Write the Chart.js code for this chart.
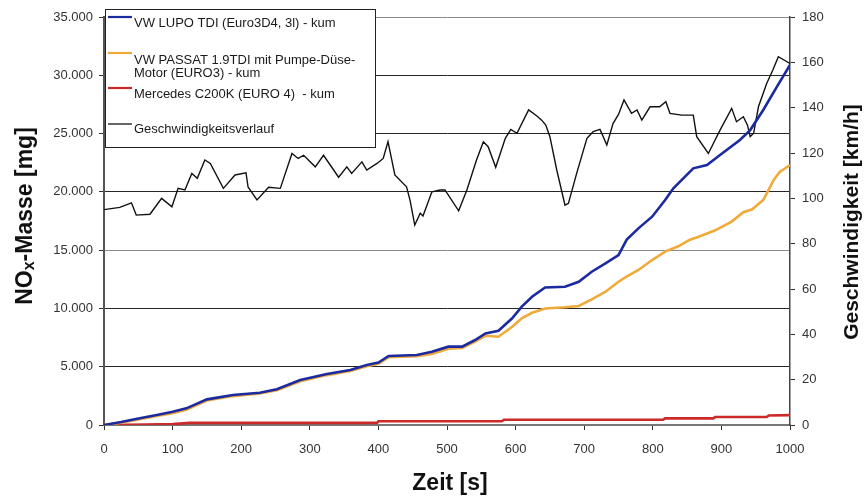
<!DOCTYPE html>
<html><head><meta charset="utf-8">
<script src="https://cdn.jsdelivr.net/npm/chart.js@4.4.1/dist/chart.umd.min.js"></script>
<style>html,body{margin:0;padding:0;background:#fff;}#wrap{width:864px;height:496px;}</style>
</head><body><div id="wrap"><canvas id="c" width="864" height="496"></canvas></div>
<script>
// ---- data ----
const lupoTime = [0,25,52,77,100,120,150,188,227,252,286,325,359,383,400,415,456,478,502,522,541,556,575,595,609,624,643,672,692,711,731,750,762,779,799,818,830,859,879,898,927,942,961,981,1000];
const lupoMg   = [0,250,575,860,1140,1430,2200,2570,2770,3060,3860,4380,4720,5150,5350,5920,6000,6290,6720,6720,7290,7860,8090,9150,10150,11000,11800,11860,12290,13150,13870,14580,15900,16870,17870,19300,20300,22020,22300,23160,24450,25300,27020,29020,30880];

const passatTime = [0,25,52,77,100,120,150,188,227,252,286,325,359,383,400,415,456,478,502,522,541,556,575,595,609,624,643,672,692,711,731,750,760,779,799,818,838,854,867,891,915,932,945,961,970,976,985,1000];
const passatMg   = [0,200,500,780,1000,1300,2100,2480,2700,2980,3750,4280,4630,5050,5250,5820,5900,6090,6550,6600,7150,7650,7575,8430,9150,9630,10000,10100,10210,10780,11430,12290,12670,13300,14150,14870,15350,15900,16150,16700,17450,18250,18500,19300,20300,21000,21700,22300];

const mercTime = [0,60,100,125,398,400,580,583,815,818,888,891,966,969,1000];
const mercMg   = [0,40,80,180,180,320,320,450,450,570,570,680,680,820,850];

const speedTime = [0,23,40,47,67,84,99,108,118,128,136,147,155,174,191,207,210,223,240,257,274,283,291,308,320,342,354,361,376,383,398,407,414,424,441,446,453,461,465,478,490,497,517,529,543,553,560,571,585,593,602,619,631,638,644,650,660,672,677,689,704,713,723,733,742,750,758,769,777,784,796,810,819,825,842,859,864,881,898,915,922,932,938,942,947,954,966,975,983,1000];
const speedKmh  = [95,96,98,92.6,93,100,96.3,104.4,103.7,111,108.8,116.9,115.4,104.4,110.3,111.3,105,99.3,104.9,104.4,119.8,117.6,119,113.9,119,109.3,113.9,111,116.1,112.5,115.4,117.6,125,110.3,105.1,99.3,88.2,93.4,92.2,102.9,103.7,103.7,94.5,103.7,116.9,125,122.8,113.7,126.5,130.4,128.7,139,136.3,134.5,132.3,127.2,112.5,97,97.8,111,126.5,129.4,130.4,123.5,133,137,143.4,137.5,139,134.5,140.4,140.4,142.6,137.5,136.7,136.7,127.2,119.8,130.1,139.7,133.8,136,132.3,127.2,128.7,140.4,150.7,156.6,162.5,159.5];

const seriesNames = [
  ["VW LUPO TDI (Euro3D4, 3l) - kum"],
  ["VW PASSAT 1.9TDI mit Pumpe-Düse-", "Motor (EURO3) - kum"],
  ["Mercedes C200K (EURO 4)  - kum"],
  ["Geschwindigkeitsverlauf"]
];
const xTitle = "Zeit [s]";
const yTitleParts = ["NO", "x", "-Masse [mg]"];
const y1Title = "Geschwindigkeit [km/h]";

// ---- helpers ----
const pts = (xs, ys) => xs.map((x, i) => ({x: x, y: ys[i]}));
const fmtDE = v => String(v).replace(/\B(?=(\d{3})+(?!\d))/g, ".");
const FONT = "'Liberation Sans', Arial, sans-serif";
const colors = ['#1c2aa0', '#f0aa3a', '#cc2a2a', '#111111'];

const overlay = {
  id: 'overlay',
  afterDraw(chart) {
    const ctx = chart.ctx;
    ctx.save();
    // legend box
    const bx = 105.5, by = 9.5, bw = 270, bh = 138;
    ctx.fillStyle = '#fff';
    ctx.fillRect(bx, by, bw, bh);
    ctx.strokeStyle = '#222';
    ctx.lineWidth = 1;
    ctx.strokeRect(bx, by, bw, bh);
    const sampleY = [17, 53, 88, 124];
    const textY = [[23], [60, 73.5], [94], [129.5]];
    ctx.font = "13px " + FONT;
    ctx.textBaseline = 'middle';
    ctx.textAlign = 'left';
    chart.data.datasets.forEach((ds, i) => {
      ctx.strokeStyle = ds.borderColor;
      ctx.lineWidth = i === 3 ? 1.3 : 2.2;
      ctx.beginPath();
      ctx.moveTo(108, sampleY[i]);
      ctx.lineTo(132, sampleY[i]);
      ctx.stroke();
      ctx.fillStyle = '#1a1a1a';
      seriesNames[i].forEach((line, j) => ctx.fillText(line, 134, textY[i][j]));
    });
    // axis titles
    ctx.fillStyle = '#111';
    ctx.textBaseline = 'alphabetic';
    ctx.font = "bold 23px " + FONT;
    ctx.textAlign = 'center';
    ctx.fillText(xTitle, 450, 490);
    ctx.save();
    ctx.translate(32, 216);
    ctx.rotate(-Math.PI / 2);
    const big = "bold 23px " + FONT, small = "bold 16px " + FONT;
    ctx.font = big; const w0 = ctx.measureText(yTitleParts[0]).width;
    ctx.font = small; const w1 = ctx.measureText(yTitleParts[1]).width;
    ctx.font = big; const w2 = ctx.measureText(yTitleParts[2]).width;
    let sx = -(w0 + w1 + w2) / 2;
    ctx.textAlign = 'left';
    ctx.font = big; ctx.fillText(yTitleParts[0], sx, 0); sx += w0;
    ctx.font = small; ctx.fillText(yTitleParts[1], sx, 2); sx += w1;
    ctx.font = big; ctx.fillText(yTitleParts[2], sx, 0);
    ctx.restore();
    ctx.save();
    ctx.translate(858, 222);
    ctx.rotate(-Math.PI / 2);
    ctx.font = "bold 21px " + FONT;
    ctx.textAlign = 'center';
    ctx.fillText(y1Title, 0, 0);
    ctx.restore();
    ctx.restore();
  }
};

new Chart(document.getElementById('c'), {
  type: 'line',
  data: {
    datasets: [
      {label: seriesNames[0].join(' '), data: pts(lupoTime, lupoMg), borderColor: colors[0], borderWidth: 2.6, yAxisID: 'y'},
      {label: seriesNames[1].join(' '), data: pts(passatTime, passatMg), borderColor: colors[1], borderWidth: 2.6, yAxisID: 'y'},
      {label: seriesNames[2].join(' '), data: pts(mercTime, mercMg), borderColor: colors[2], borderWidth: 2.6, yAxisID: 'y'},
      {label: seriesNames[3].join(' '), data: pts(speedTime, speedKmh), borderColor: colors[3], borderWidth: 1.4, yAxisID: 'y1'}
    ]
  },
  options: {
    responsive: false,
    animation: false,
    devicePixelRatio: 1,
    layout: {padding: {top: 17, left: 0, right: 0, bottom: 0}},
    elements: {point: {radius: 0}, line: {tension: 0}},
    plugins: {legend: {display: false}, tooltip: {enabled: false}},
    scales: {
      x: {
        type: 'linear', min: 0, max: 1000,
        ticks: {stepSize: 100, color: '#333', font: {family: FONT, size: 13}, padding: 12, maxRotation: 0, callback: v => String(v)},
        grid: {drawOnChartArea: false, drawTicks: true, tickLength: 5, tickColor: '#333'},
        border: {display: true, color: '#777', width: 2},
        afterFit: s => { s.height = 71; }
      },
      y: {
        position: 'left', min: 0, max: 35000,
        ticks: {stepSize: 5000, color: '#333', font: {family: FONT, size: 13}, padding: 6, callback: v => fmtDE(v)},
        grid: {
          color: c => (c.tick && (c.tick.value === 35000 || c.tick.value === 15000)) ? '#8a8a8a' : '#262626',
          lineWidth: 1, tickLength: 5, tickColor: '#333'
        },
        border: {display: true, color: '#555', width: 2},
        afterFit: s => { s.width = 104; }
      },
      y1: {
        position: 'right', min: 0, max: 180,
        ticks: {stepSize: 20, color: '#333', font: {family: FONT, size: 13}, padding: 7},
        grid: {drawOnChartArea: false, tickLength: 5, tickColor: '#333'},
        border: {display: true, color: '#444', width: 1.5},
        afterFit: s => { s.width = 74; }
      }
    }
  },
  plugins: [overlay]
});
</script>
</body></html>
